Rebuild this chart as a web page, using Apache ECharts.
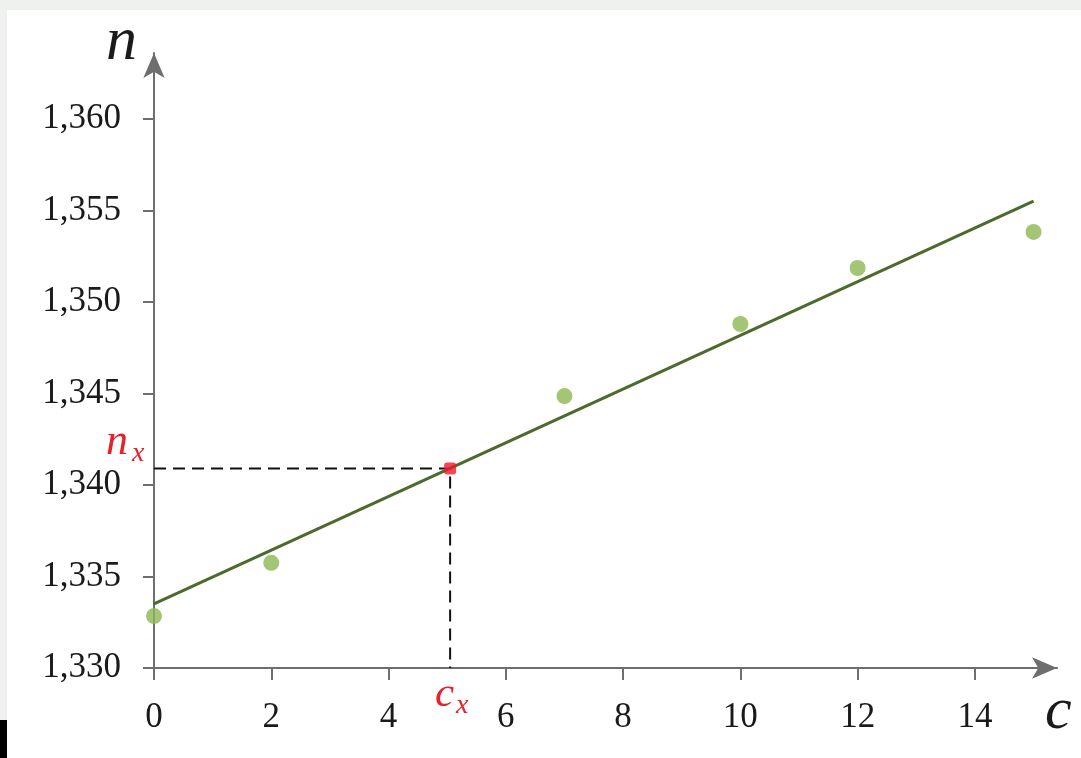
<!DOCTYPE html>
<html><head><meta charset="utf-8">
<script src="https://cdn.jsdelivr.net/npm/echarts@6/dist/echarts.min.js"></script>
<style>html,body{margin:0;padding:0;background:#fff;}#c{width:1081px;height:758px;}</style>
</head><body><div id="c"></div>
<script>
const concentration = [0, 2, 7, 10, 12, 15];
const refractiveIndex = [1.33284, 1.33575, 1.34486, 1.3488, 1.35186, 1.35383];
const fitConc = [0, 15];
const fitIndex = [1.3335, 1.35552];
const unknownConc = 5.05;
const unknownIndex = 1.3409;
const xTickValues = [0, 2, 4, 6, 8, 10, 12, 14];
const yTickValues = [1.330, 1.335, 1.340, 1.345, 1.350, 1.355, 1.360];

const chart = echarts.init(document.getElementById('c'));
const serif = 'Liberation Serif';
const fmt = v => v.toFixed(3).replace('.', ',');
chart.setOption({
  backgroundColor: '#ffffff',
  animation: false,
  grid: { left: 154, top: 53, width: 903, height: 615 },
  xAxis: {
    type: 'value', min: 0, max: 15.40,
    splitLine: { show: false },
    axisLine: { lineStyle: { color: '#6e6e6e', width: 2 }, symbol: ['none', 'arrow'], symbolSize: [16, 25] },
    axisTick: { customValues: xTickValues, length: 12, lineStyle: { color: '#6e6e6e', width: 2 } },
    axisLabel: { customValues: xTickValues, margin: 32, fontFamily: serif, fontSize: 35, color: '#1a1a1a' }
  },
  yAxis: {
    type: 'value', min: 1.330, max: 1.36361,
    splitLine: { show: false },
    axisLine: { lineStyle: { color: '#6e6e6e', width: 2 }, symbol: ['none', 'arrow'], symbolSize: [16, 25] },
    axisTick: { customValues: yTickValues, length: 11, lineStyle: { color: '#6e6e6e', width: 2 } },
    axisLabel: { customValues: yTickValues, margin: 33, fontFamily: serif, fontSize: 35, color: '#1a1a1a', formatter: fmt }
  },
  series: [
    {
      type: 'line', data: [[0, unknownIndex], [unknownConc, unknownIndex], [unknownConc, 1.330]],
      symbol: 'none', lineStyle: { color: '#111', width: 2, type: [12, 7] }, z: 2
    },
    {
      type: 'line', data: fitConc.map((c, i) => [c, fitIndex[i]]),
      symbol: 'none', lineStyle: { color: '#4b6a2c', width: 3 }, z: 3
    },
    {
      type: 'scatter', data: concentration.map((c, i) => [c, refractiveIndex[i]]),
      symbolSize: 16, itemStyle: { color: '#8db652' }, z: 4
    },
    {
      type: 'scatter', data: [[unknownConc, unknownIndex]],
      symbol: 'roundRect', symbolSize: 12, itemStyle: { color: '#ee1c2a' }, z: 5
    }
  ],
  graphic: [
    { type: 'rect', left: 0, top: 0, shape: { width: 1081, height: 10 }, style: { fill: '#eef1ed' } },
    { type: 'rect', left: 0, top: 0, shape: { width: 7, height: 758 }, style: { fill: '#eef1ed' } },
    { type: 'rect', left: 0, top: 720, shape: { width: 7, height: 38 }, style: { fill: '#000' } },
    { type: 'text', left: 106, top: 12, style: { text: 'n', font: 'italic 62px ' + serif, fill: '#1a1a1a' } },
    { type: 'text', left: 1045, top: 682, style: { text: 'c', font: 'italic 60px ' + serif, fill: '#1a1a1a' } },
    { type: 'text', left: 106, top: 420, style: { text: 'n', font: 'italic 44px ' + serif, fill: '#e8202a' } },
    { type: 'text', left: 132, top: 440, style: { text: 'x', font: 'italic 28px ' + serif, fill: '#e8202a' } },
    { type: 'text', left: 435, top: 673, style: { text: 'c', font: 'italic 43px ' + serif, fill: '#e8202a' } },
    { type: 'text', left: 456, top: 692, style: { text: 'x', font: 'italic 28px ' + serif, fill: '#e8202a' } }
  ]
});
</script></body></html>
